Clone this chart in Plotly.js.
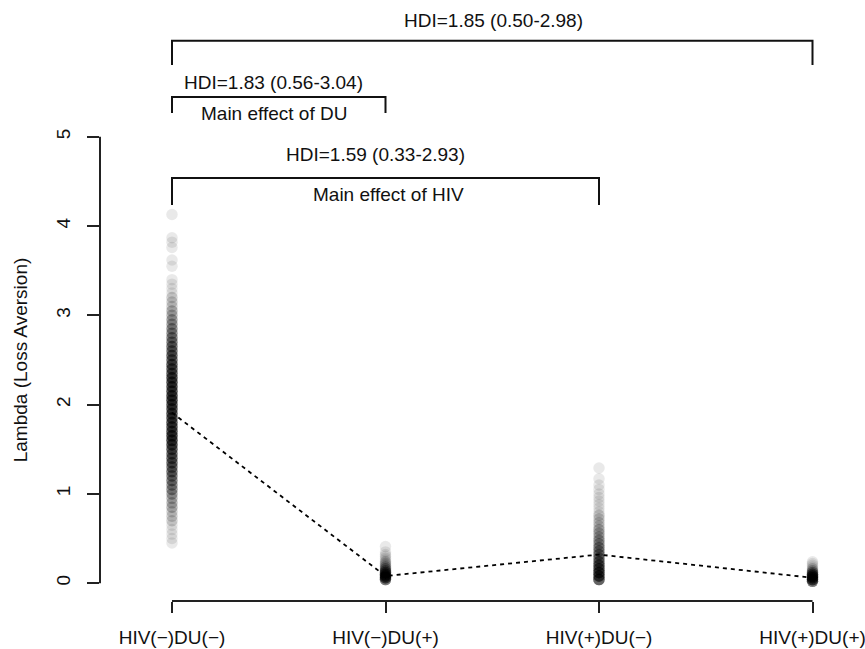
<!DOCTYPE html>
<html><head><meta charset="utf-8">
<script src="https://cdn.plot.ly/plotly-3.0.1.min.js"></script>
<style>html,body{margin:0;padding:0;background:#fff}#chart{width:865px;height:649px}</style>
</head><body><div id="chart"></div>
<script>
// ---- data ----
const categories = ['HIV(\u2212)DU(\u2212)', 'HIV(\u2212)DU(+)', 'HIV(+)DU(\u2212)', 'HIV(+)DU(+)'];
const catPos = [1, 2, 3, 4];

// posterior samples of lambda, as value bins and sample counts per bin
const g1Values = [0.45,0.50,0.55,0.60,0.65,0.70,0.75,0.80,0.85,0.90,0.95,1.00,1.05,1.10,1.15,1.20,1.25,1.30,1.35,1.40,1.45,1.50,1.55,1.60,1.65,1.70,1.75,1.80,1.85,1.90,1.95,2.00,2.05,2.10,2.15,2.20,2.25,2.30,2.35,2.40,2.45,2.50,2.55,2.60,2.65,2.70,2.75,2.80,2.85,2.90,2.95,3.00,3.05,3.10,3.15,3.20,3.25,3.30,3.35,3.40,3.55,3.62,3.76,3.82,3.87,4.13];
const g1Counts = [1,1,1,1,1,2,2,2,3,3,3,4,5,5,6,6,7,7,8,8,8,9,10,11,11,10,10,10,10,10,10,10,11,11,10,10,10,10,9,9,9,8,8,7,7,6,6,5,5,4,4,3,3,2,2,2,1,1,1,1,1,1,1,1,1,1];

const g2Values = [0.04,0.06,0.08,0.10,0.12,0.14,0.16,0.18,0.20,0.22,0.24,0.26,0.28,0.30,0.32,0.35,0.41];
const g2Counts = [8,10,10,9,7,5,4,3,2,2,2,1,1,1,1,1,1];

const g3Values = [0.04,0.08,0.12,0.16,0.20,0.24,0.28,0.32,0.36,0.40,0.44,0.48,0.52,0.56,0.60,0.64,0.68,0.72,0.76,0.80,0.84,0.88,0.92,0.96,1.00,1.05,1.10,1.17,1.29];
const g3Counts = [10,10,10,9,8,7,6,6,5,5,4,4,3,3,3,2,2,2,2,1,1,1,1,1,1,1,1,1,1];

const g4Values = [0.02,0.04,0.06,0.08,0.10,0.12,0.14,0.16,0.18,0.20,0.22,0.24];
const g4Counts = [8,10,10,10,8,5,3,2,1,1,1,1];

const groupMeans = [1.91, 0.08, 0.32, 0.06];

const yTickVals = [0, 1, 2, 3, 4, 5];
const yTickText = ['0', '1', '2', '3', '4', '5'];
const yTitle = 'Lambda (Loss Aversion)';
const hdiLabels = ['HDI=1.85 (0.50-2.98)', 'HDI=1.83 (0.56-3.04)', 'HDI=1.59 (0.33-2.93)'];
const effectLabels = ['Main effect of DU', 'Main effect of HIV'];

// ---- drawing ----
const FONT = 'Liberation Sans, Arial, Helvetica, sans-serif';
const M = {l: 100, r: 15, t: 119, b: 48};
const W = 865, H = 649;
const PW = W - M.l - M.r, PH = H - M.t - M.b;
const px = x => (x - M.l) / PW;        // pixel x -> paper
const py = y => (M.t + PH - y) / PH;   // pixel y -> paper

function expand(vals, counts) {
  const out = [];
  vals.forEach((v, i) => { for (let k = 0; k < counts[i]; k++) out.push(v); });
  return out;
}
const groups = [[g1Values, g1Counts], [g2Values, g2Counts], [g3Values, g3Counts], [g4Values, g4Counts]];
const traces = groups.map((g, i) => {
  const ys = expand(g[0], g[1]);
  return {
    type: 'scatter', mode: 'markers', x: ys.map(() => catPos[i]), y: ys,
    marker: {size: 11.5, color: 'rgba(0,0,0,0.085)', line: {width: 0}},
    hoverinfo: 'skip', cliponaxis: false
  };
});
traces.push({
  type: 'scatter', mode: 'lines', x: catPos, y: groupMeans,
  line: {color: '#000', width: 1.8, dash: '4px,4px'}, hoverinfo: 'skip'
});

function bracket(x0, x1, yTop, yBot) {
  return {type: 'path', xref: 'x', yref: 'paper',
    path: `M${x0},${py(yBot)} L${x0},${py(yTop)} L${x1},${py(yTop)} L${x1},${py(yBot)}`,
    line: {color: '#111', width: 2}};
}
const shapes = [
  bracket(catPos[0], catPos[3], 40.7, 65),
  bracket(catPos[0], catPos[1], 97, 113),
  bracket(catPos[0], catPos[2], 178, 205),
  // x axis line (first to last tick)
  {type: 'line', xref: 'x', yref: 'paper', x0: catPos[0], x1: catPos[3], y0: 0, y1: 0, line: {color: '#222', width: 2}},
  // y axis line (first to last tick)
  {type: 'line', xref: 'paper', yref: 'y', x0: 0, x1: 0, y0: yTickVals[0], y1: yTickVals[yTickVals.length - 1], line: {color: '#222', width: 2}}
];
function label(text, cx, cy) {
  return {text, xref: 'paper', yref: 'paper', x: px(cx), y: py(cy), xanchor: 'center', yanchor: 'middle',
    showarrow: false, font: {family: FONT, size: 19, color: '#111'}};
}
const annotations = [
  label(hdiLabels[0], 493, 20),
  label(hdiLabels[1], 273, 82),
  label(effectLabels[0], 274, 113),
  label(hdiLabels[2], 375, 155),
  label(effectLabels[1], 388, 194)
];

const layout = {
  width: W, height: H, margin: M, showlegend: false,
  paper_bgcolor: '#fff', plot_bgcolor: '#fff',
  font: {family: FONT, size: 19, color: '#111'},
  xaxis: {range: [1 - 72 / 213.5, 1 - 72 / 213.5 + PW / 213.5], tickmode: 'array', tickvals: catPos, ticktext: categories,
    ticks: 'outside', ticklen: 11, tickwidth: 2, tickcolor: '#222', showgrid: false, zeroline: false, showline: false,
    ticklabeloverflow: 'allow', ticklabelstandoff: 8,
    tickfont: {family: FONT, size: 19, color: '#111'}, fixedrange: true},
  yaxis: {range: [-0.2, 5.2], tickmode: 'array', tickvals: yTickVals, ticktext: yTickText,
    ticks: 'outside', ticklen: 12, tickwidth: 2, tickcolor: '#222', tickangle: -90,
    showgrid: false, zeroline: false, showline: false, ticklabelstandoff: 9,
    tickfont: {family: FONT, size: 19, color: '#111'},
    title: {text: yTitle, font: {family: FONT, size: 19, color: '#111'}, standoff: 20}, fixedrange: true},
  shapes, annotations
};
Plotly.newPlot('chart', traces, layout, {displayModeBar: false, staticPlot: true});
</script></body></html>
